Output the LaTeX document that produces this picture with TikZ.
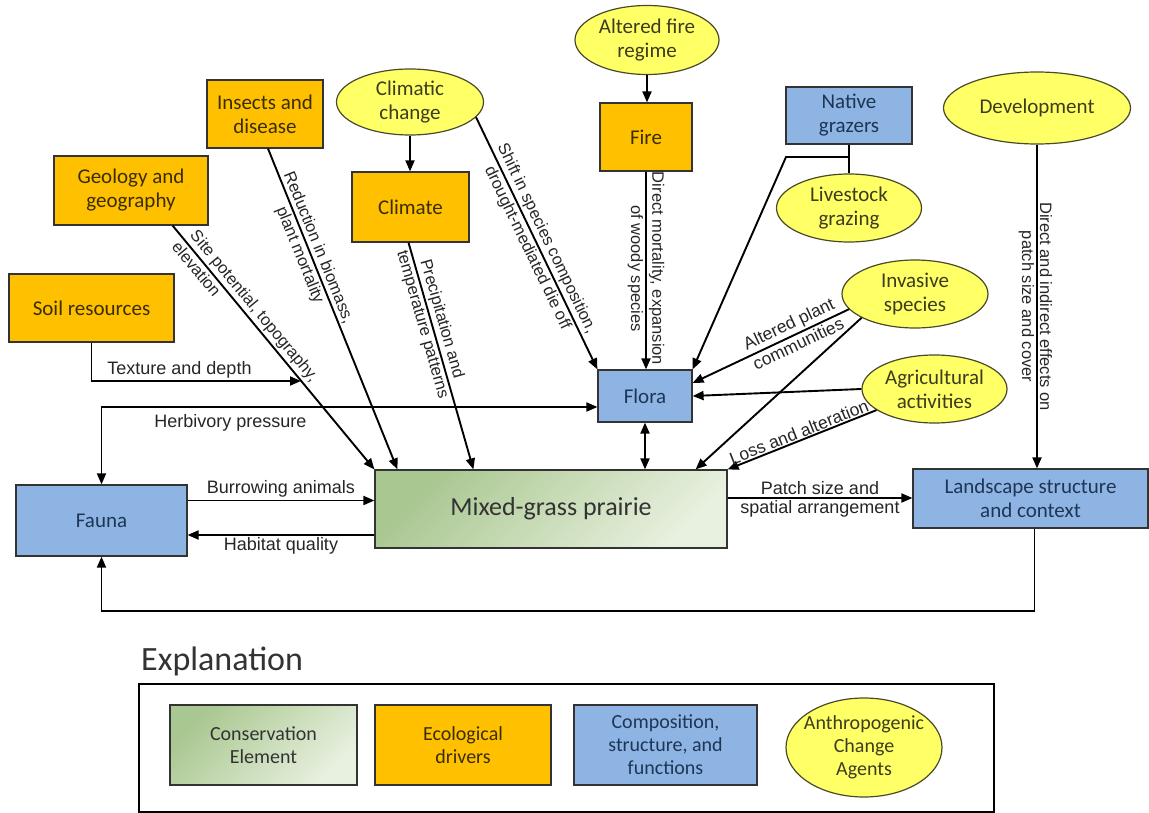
\documentclass[tikz,border=0pt]{standalone}
\usepackage{fontspec}
\usetikzlibrary{arrows.meta,calc,shapes.geometric}
\newfontfamily\boxfont{Carlito}
\newfontfamily\labelfont{Liberation Sans}
\definecolor{gold}{HTML}{FFC000}
\definecolor{cblue}{HTML}{8DB4E2}
\definecolor{agentfill}{HTML}{FFFF66}
\definecolor{agentline}{HTML}{4A4A2A}
\definecolor{boxline}{HTML}{333333}
\definecolor{goldtext}{HTML}{3A2E00}
\definecolor{bluetext}{HTML}{1E3656}
\definecolor{agenttext}{HTML}{3C3C1E}
\definecolor{labeltext}{HTML}{262626}
\definecolor{pgA}{HTML}{A9C790}
\definecolor{pgB}{HTML}{E8F0DF}
\definecolor{legtext}{HTML}{333333}
\tikzset{
  base/.style={font=\boxfont\fontsize{21}{24}\selectfont, align=center,
    inner sep=0pt, line width=1.2pt},
  driver/.style={base, rectangle, draw=boxline, fill=gold, text=goldtext},
  compbox/.style={base, rectangle, draw=boxline, fill=cblue, text=bluetext},
  agent/.style={base, ellipse, draw=agentline, fill=agentfill, text=agenttext},
  consbox/.style={base, rectangle, draw=boxline, top color=pgA, bottom color=pgB,
    shading angle=45, text=legtext},
  legfont/.style={font=\boxfont\fontsize{20}{23}\selectfont},
  arr/.style={line width=1.9pt, -{Triangle[length=11pt,width=9pt]}},
  darr/.style={line width=1.9pt, {Triangle[length=11pt,width=9pt]}-{Triangle[length=11pt,width=9pt]}},
  lbl/.style={font=\labelfont\fontsize{18}{20}\selectfont, text=labeltext, inner sep=2pt},
  rlbl/.style={lbl, sloped, font=\labelfont\fontsize{16.5}{19}\selectfont},
  wlbl/.style={lbl, sloped, font=\labelfont\fontsize{17.5}{20}\selectfont},
}
\begin{document}
\begin{tikzpicture}[x=1pt,y=-1pt]
\path[use as bounding box, fill=white] (0,0) rectangle (1149,813);

% ---- change agents (ellipses)
\node[agent, minimum width=144, minimum height=69] (fireRegime) at (647,40) {Altered fire\\regime};
\node[agent, minimum width=147, minimum height=66] (climChange) at (410,102) {Climatic\\change};
\node[agent, minimum width=145, minimum height=68] (livestock) at (849,208) {Livestock\\grazing};
\node[agent, minimum width=187, minimum height=72] (development) at (1037,108) {Development};
\node[agent, minimum width=146, minimum height=68] (invasive) at (915,294) {Invasive\\species};
\node[agent, minimum width=145, minimum height=68] (agri) at (934.5,389) {Agricultural\\activities};

% ---- ecological drivers
\node[driver, minimum width=92, minimum height=68] (fire) at (646,137) {Fire};
\node[driver, minimum width=117, minimum height=70] (climate) at (410.5,207) {Climate};
\node[driver, minimum width=116, minimum height=68] (insects) at (265,114) {Insects and\\disease};
\node[driver, minimum width=154, minimum height=69] (geology) at (131,190.5) {Geology and\\geography};
\node[driver, minimum width=165, minimum height=68] (soil) at (91.5,308) {Soil resources};

% ---- composition, structure and functions
\node[compbox, minimum width=126, minimum height=57] (grazers) at (849,115.5) {Native\\grazers};
\node[compbox, minimum width=94, minimum height=52] (flora) at (645,396) {Flora};
\node[compbox, minimum width=171, minimum height=71] (fauna) at (101.5,520.5) {Fauna};
\node[compbox, minimum width=235, minimum height=59] (landscape) at (1030.5,498.5) {Landscape structure\\and context};

% ---- conservation element
\node[consbox, minimum width=352, minimum height=78, font=\boxfont\fontsize{26}{30}\selectfont]
  (prairie) at (551,509) {Mixed-grass prairie};

% ---- connectors
\draw[arr] (fireRegime.south) -- (fireRegime.south |- fire.north);
\draw[arr] (climChange.south) -- (climChange.south |- climate.north);

\draw[arr] (climChange.-13) -- (flora.north west)
  node[rlbl, pos=0.5, above] {Shift in species composition,}
  node[rlbl, pos=0.5, below] {drought-mediated die off};

\draw[arr] (fire.south) -- (fire.south |- flora.north)
  node[rlbl, pos=0.49, above] {Direct mortality, expansion}
  node[rlbl, pos=0.49, below] {of woody species};

\draw[arr] ($(insects.south)+(3,0)$) -- ($(prairie.north west)+(23,0)$)
  node[rlbl, pos=0.32, above] {Reduction in biomass,}
  node[rlbl, pos=0.32, below] {plant mortality};

\draw[arr] ($(geology.south east)+(-36,0)$) -- (prairie.north west)
  node[rlbl, pos=0.05, anchor=south west] {Site potential, topography,}
  node[rlbl, pos=0.04, anchor=north west] {elevation};

\draw[arr] ($(climate.south)+(-2,0)$) -- ($(prairie.north west)+(99,0)$)
  node[rlbl, pos=0.35, above] {Precipitation and}
  node[rlbl, pos=0.35, below] {temperature patterns};

\coordinate (texEnd) at (301,381);
\draw[arr] (soil.south) |- (texEnd)
  node[lbl, above, pos=0.71] {Texture and depth};

\coordinate (hp) at ($(flora.west)+(0,11)$);
\draw[darr] (fauna.north) |- (hp)
  node[lbl, below=5pt, pos=0.63] {Herbivory pressure};

\coordinate (b1) at ($(fauna.east)+(0,-20)$);
\draw[arr] (b1) -- (b1 -| prairie.west)
  node[lbl, above, midway] {Burrowing animals};

\coordinate (h1) at ($(prairie.west)+(0,26)$);
\draw[arr] (h1) -- (h1 -| fauna.east)
  node[lbl, below, midway] {Habitat quality};

\coordinate (p1) at ($(prairie.east)+(0,-11)$);
\draw[arr] (p1) -- (p1 -| landscape.west)
  node[lbl, above, midway] {Patch size and}
  node[lbl, below, midway] {spatial arrangement};

\draw[arr] ($(landscape.south)+(4,0)$) -- ++(0,82) -| (fauna.south);

\draw[darr] (flora.south) -- (flora.south |- prairie.north);

\draw[arr] (development.south) -- (development.south |- landscape.north)
  node[rlbl, midway, above] {Direct and indirect effects on}
  node[rlbl, midway, below] {patch size and cover};

\draw[line width=1.9pt] (grazers.south) -- (livestock.north);
\coordinate (gj) at (849,157);
\coordinate (gk) at (786,157);
\draw[arr] (gj) -- (gk) -- (flora.north east);

\draw[arr] (invasive.193) -- ($(flora.east)+(0,-13)$)
  node[wlbl, pos=0.35, above] {Altered plant}
  node[wlbl, pos=0.35, below] {communities};
\draw[arr] (invasive.204) -- ($(prairie.north east)+(-32,0)$);
\draw[arr] (agri.west) -- (flora.east);
\draw[arr] (agri.200) -- (prairie.north east)
  node[wlbl, midway, above, inner sep=1pt] {Loss and alteration};

% ---- legend
\node[font=\boxfont\fontsize{34}{38}\selectfont, text=legtext, anchor=west, inner sep=0pt]
  (explTitle) at (141,661) {Explanation};
\node[draw=black, line width=1.5pt, minimum width=855, minimum height=128,
  inner sep=0pt, anchor=north west] (legendFrame) at (138,683) {};
\node[consbox, legfont, minimum width=187, minimum height=80] (legCons) at (263.5,745) {Conservation\\Element};
\node[driver, legfont, minimum width=176, minimum height=80] (legDriver) at (463,745) {Ecological\\drivers};
\node[compbox, legfont, minimum width=183, minimum height=80] (legComp) at (665.5,745) {Composition,\\structure, and\\functions};
\node[agent, legfont, minimum width=156, minimum height=99, inner xsep=-12pt] (legAgent) at (864,747.5) {Anthropogenic\\Change\\Agents};
\end{tikzpicture}
\end{document}
